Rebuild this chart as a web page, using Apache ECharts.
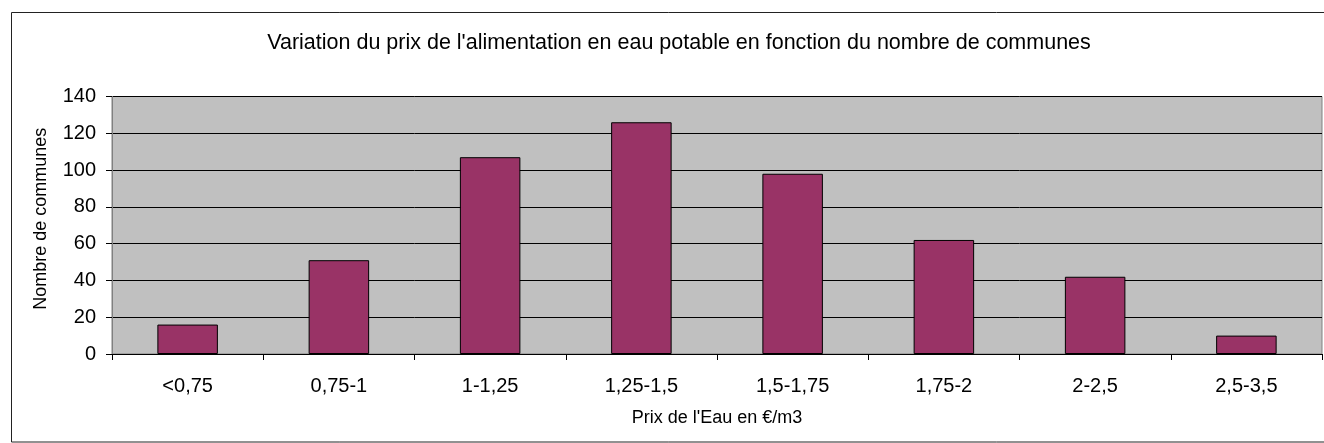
<!DOCTYPE html>
<html><head><meta charset="utf-8">
<script src="https://cdn.jsdelivr.net/npm/echarts@6/dist/echarts.min.js"></script>
<style>html,body{margin:0;padding:0;background:#fff}#c{width:1324px;height:443px}</style>
</head><body><div id="c"></div>
<script>
const categories = ['<0,75','0,75-1','1-1,25','1,25-1,5','1,5-1,75','1,75-2','2-2,5','2,5-3,5'];
const communes = [16, 51, 107, 126, 98, 62, 42, 10];
const titleText = "Variation du prix de l'alimentation en eau potable en fonction du nombre de communes";
const xName = "Prix de l'Eau en €/m3";
const yName = "Nombre de communes";

const chart = echarts.init(document.getElementById('c'));
const font = 'Liberation Sans, Arial, sans-serif';
chart.setOption({
  animation: false,
  backgroundColor: '#fff',
  textStyle: {fontFamily: font},
  title: {text: titleText, left: 674, top: 27, textAlign: 'center',
    textStyle: {fontFamily: font, fontSize: 21.5, fontWeight: 'normal', color: '#000'}},
  graphic: [{type: 'rect', shape: {x: 11.5, y: 12.5, width: 1330, height: 429.5},
    style: {fill: 'none', stroke: '#222', lineWidth: 1}, z: 100}],
  grid: {left: 112, right: 2, top: 96.5, bottom: 89, show: true,
    backgroundColor: '#c0c0c0', borderColor: '#808080', borderWidth: 1},
  xAxis: {type: 'category', data: categories,
    name: xName, nameLocation: 'middle', nameGap: 55,
    nameTextStyle: {fontFamily: font, fontSize: 18, color: '#000'},
    axisLine: {lineStyle: {color: '#000', width: 1}},
    axisTick: {show: true, length: 6, lineStyle: {color: '#000'}},
    axisLabel: {fontFamily: font, fontSize: 20, color: '#000', margin: 22}},
  yAxis: {type: 'value', min: 0, max: 140, interval: 20,
    name: yName, nameLocation: 'middle', nameGap: 62,
    nameTextStyle: {fontFamily: font, fontSize: 18, color: '#000', padding: [0, 0, 0, 13]},
    axisLine: {show: true, lineStyle: {color: '#808080'}},
    axisTick: {show: true, length: 6, lineStyle: {color: '#000'}},
    axisLabel: {fontFamily: font, fontSize: 20, color: '#000', margin: 16},
    splitLine: {show: true, lineStyle: {color: '#000', width: 1}}},
  series: [{type: 'bar', data: communes, barWidth: '40%',
    itemStyle: {color: '#993366', borderColor: '#000', borderWidth: 1}}]
});
</script></body></html>
